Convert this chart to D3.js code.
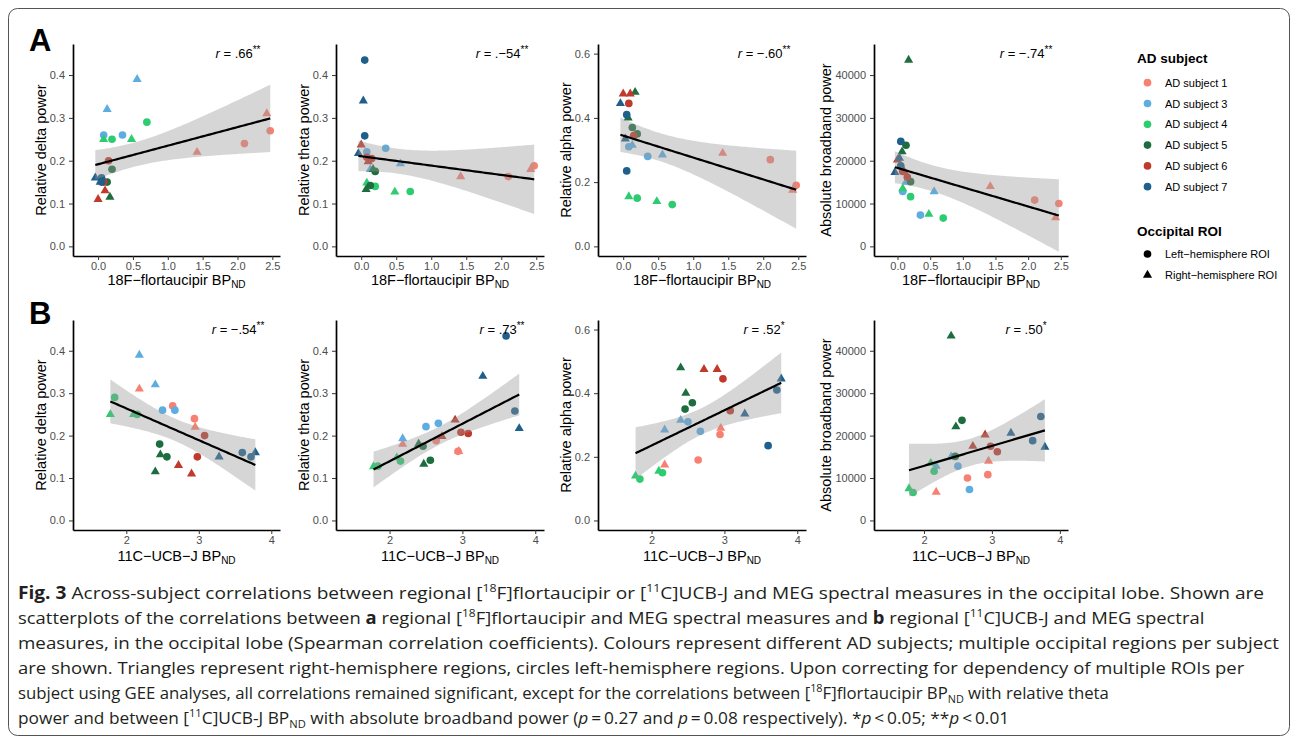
<!DOCTYPE html>
<html>
<head>
<meta charset="utf-8">
<script src="https://cdn.jsdelivr.net/npm/d3@7"></script>
<style>
  body { margin: 0; background: #fff; }
  text { font-family: "Liberation Sans", Arial, Helvetica, sans-serif; }
</style>
</head>
<body>
<script>
// One entry per occipital ROI (two left, two right per AD subject).
const subject = [1,1,1,1, 3,3,3,3, 4,4,4,4, 5,5,5,5, 6,6,6,6, 7,7,7,7];
const hemisphere = ["R","R","L","L", "R","R","L","L", "R","R","L","L", "R","R","L","L", "R","R","L","L", "R","R","L","L"];
const tauBP = [2.42,1.42,2.47,2.10, 0.56,0.13,0.08,0.35, 0.08,0.48,0.20,0.70, 0.17,0.07,0.13,0.20, 0.00,0.10,0.08,0.15, 0.03,-0.04,0.05,0.05];
const ucbBP = [2.18,2.95,2.64,2.94, 2.18,2.40,2.50,2.67, 2.10,1.78,2.15,1.84, 2.40,2.47,2.56,2.46, 2.90,2.72,2.98,3.08, 3.28,3.78,3.60,3.72];
const deltaPower = [0.31,0.22,0.27,0.24, 0.39,0.32,0.26,0.26, 0.25,0.25,0.25,0.29, 0.115,0.155,0.15,0.18, 0.11,0.13,0.15,0.20, 0.15,0.16,0.16,0.15];
const thetaPower = [0.18,0.163,0.188,0.163, 0.193,0.18,0.221,0.229, 0.148,0.127,0.14,0.128, 0.18,0.133,0.142,0.175, 0.237,0.198,0.208,0.205, 0.34,0.217,0.435,0.258];
const alphaPower = [0.175,0.29,0.19,0.27, 0.285,0.315,0.31,0.28, 0.155,0.14,0.15,0.13, 0.48,0.40,0.37,0.35, 0.475,0.475,0.445,0.345, 0.335,0.445,0.235,0.41];
const broadbandPower = [6700,14000,10000,10800, 12800,15000,12800,7300, 13500,7500,11600,6600, 43500,22100,23600,15100, 20200,17500,17500,16200, 20600,17300,18800,24500];

const subjectIds = [1, 3, 4, 5, 6, 7];
const subjectLabels = ["AD subject 1", "AD subject 3", "AD subject 4", "AD subject 5", "AD subject 6", "AD subject 7"];
const roiLabels = ["Left\u2212hemisphere ROI", "Right\u2212hemisphere ROI"];

// r labels: [value text, stars]
const rLabelsA = [[" = .66", "**"], [" = .\u221254", "**"], [" = \u2212.60", "**"], [" = \u2212.74", "**"]];
const rLabelsB = [[" = \u2212.54", "**"], [" = .73", "**"], [" = .52", "*"], [" = .50", "*"]];

const tauTicks = [0, 0.5, 1.0, 1.5, 2.0, 2.5];
const ucbTicks = [2, 3, 4];
const relTicks = [0, 0.1, 0.2, 0.3, 0.4];
const alphaTicks = [0, 0.2, 0.4, 0.6];
const bbTicks = [0, 10000, 20000, 30000, 40000];

const color = d3.scaleOrdinal()
    .domain(subjectIds)
    .range(["#f88072", "#5dade2", "#2ecc71", "#1d6e3e", "#c0392b", "#1f5f8b"]);

const W = 1293, H = 743;
const svg = d3.select("body").append("svg").attr("width", W).attr("height", H);

// outer frame
svg.append("rect")
    .attr("x", 8.5).attr("y", 8.5).attr("width", 1281).attr("height", 727)
    .attr("rx", 9).attr("fill", "none").attr("stroke", "#555").attr("stroke-width", 1);

const cols = [{ left: 73, right: 280 }, { left: 336, right: 544 }, { left: 598, right: 806 }, { left: 874, right: 1068 }];
const rows = [
    { top: 44, bottom: 256, xs: tauBP, xDomain: [-0.36, 2.61], xTicks: tauTicks, xFmt: d3.format(".1f"),
      xTitle: "18F\u2212flortaucipir BP", titleY: 285, r: rLabelsA, letter: "A", letterY: 51 },
    { top: 320, bottom: 530, xs: ucbBP, xDomain: [1.265, 4.12], xTicks: ucbTicks, xFmt: d3.format("d"),
      xTitle: "11C\u2212UCB\u2212J BP", titleY: 561, r: rLabelsB, letter: "B", letterY: 324 }
];
const measures = [
    { ys: deltaPower, domain: [-0.0225, 0.4725], ticks: relTicks, fmt: d3.format(".1f"), title: "Relative delta power" },
    { ys: thetaPower, domain: [-0.0225, 0.4725], ticks: relTicks, fmt: d3.format(".1f"), title: "Relative theta power" },
    { ys: alphaPower, domain: [-0.03, 0.63], ticks: alphaTicks, fmt: d3.format(".1f"), title: "Relative alpha power" },
    { ys: broadbandPower, domain: [-2250, 47250], ticks: bbTicks, fmt: d3.format("d"), title: "Absolute broadband power" }
];

// linear fit with 95% confidence band, like geom_smooth(method = "lm")
function lmBand(xs, ys) {
    const n = xs.length, mx = d3.mean(xs), my = d3.mean(ys);
    let sxx = 0, sxy = 0;
    xs.forEach((x, i) => { sxx += (x - mx) ** 2; sxy += (x - mx) * (ys[i] - my); });
    const b = sxy / sxx, a = my - b * mx;
    const s = Math.sqrt(d3.sum(xs, (x, i) => (ys[i] - a - b * x) ** 2) / (n - 2));
    const t = 2.0739; // qt(0.975, 22)
    const [x0, x1] = d3.extent(xs);
    return d3.range(80).map(i => {
        const x = x0 + (x1 - x0) * i / 79;
        const fit = a + b * x;
        const se = s * Math.sqrt(1 / n + (x - mx) ** 2 / sxx);
        return { x, fit, lo: fit - t * se, hi: fit + t * se };
    });
}

const tri = d3.symbol().type(d3.symbolTriangle).size(36);
const circ = d3.symbol().type(d3.symbolCircle).size(46);

rows.forEach((row, ri) => {
    svg.append("text")
        .attr("x", 29).attr("y", row.letterY)
        .attr("font-size", 31).attr("font-weight", "bold")
        .text(row.letter);

    measures.forEach((m, ci) => {
        const c = cols[ci];
        const x = d3.scaleLinear().domain(row.xDomain).range([c.left, c.right]);
        const y = d3.scaleLinear().domain(m.domain).range([row.bottom, row.top]);
        const g = svg.append("g");

        const clipId = `clip-${ri}-${ci}`;
        g.append("clipPath").attr("id", clipId)
            .append("rect").attr("x", c.left).attr("y", row.top)
            .attr("width", c.right - c.left).attr("height", row.bottom - row.top);

        // points
        const pts = row.xs.map((v, i) => ({ x: v, y: m.ys[i], s: subject[i], h: hemisphere[i] }));
        g.selectAll("path.pt")
            .data(pts)
            .enter()
            .append("path")
            .attr("class", "pt")
            .attr("transform", d => `translate(${x(d.x)},${y(d.y)})`)
            .attr("d", d => d.h === "R" ? tri() : circ())
            .attr("fill", d => color(d.s));

        // smoother
        const band = lmBand(row.xs, m.ys);
        const inner = g.append("g").attr("clip-path", `url(#${clipId})`);
        inner.append("path")
            .datum(band)
            .attr("fill", "#999999")
            .attr("fill-opacity", 0.4)
            .attr("d", d3.area().x(d => x(d.x)).y0(d => y(d.lo)).y1(d => y(d.hi)));
        inner.append("path")
            .datum(band)
            .attr("fill", "none")
            .attr("stroke", "#000")
            .attr("stroke-width", 2.2)
            .attr("d", d3.line().x(d => x(d.x)).y(d => y(d.fit)));

        // axes
        const yAxis = g.append("g")
            .attr("transform", `translate(${c.left},0)`)
            .call(d3.axisLeft(y).tickValues(m.ticks).tickFormat(m.fmt).tickSize(4).tickSizeOuter(0).tickPadding(4));
        const xAxis = g.append("g")
            .attr("transform", `translate(0,${row.bottom})`)
            .call(d3.axisBottom(x).tickValues(row.xTicks).tickFormat(row.xFmt).tickSize(4).tickSizeOuter(0).tickPadding(2.5));
        [yAxis, xAxis].forEach(ax => {
            ax.select(".domain").attr("stroke", "#000").attr("stroke-width", 1.7);
            ax.selectAll(".tick line").attr("stroke", "#333").attr("stroke-width", 1);
            ax.selectAll(".tick text")
                .attr("fill", "#4d4d4d")
                .attr("font-size", 11)
                .attr("font-family", "Liberation Sans, Arial, sans-serif");
        });

        // axis titles
        const bb = yAxis.node().getBBox();
        const titleX = c.left + bb.x - 4;
        g.append("text")
            .attr("transform", `translate(${titleX},${(row.top + row.bottom) / 2}) rotate(-90)`)
            .attr("text-anchor", "middle")
            .attr("font-size", 14.5)
            .text(m.title);

        const xt = g.append("text")
            .attr("x", (c.left + c.right) / 2)
            .attr("y", row.titleY)
            .attr("text-anchor", "middle")
            .attr("font-size", 14.5);
        xt.append("tspan").text(row.xTitle);
        xt.append("tspan").attr("font-size", 10).attr("dy", 3).text("ND");

        // correlation label
        const rt = g.append("text")
            .attr("x", c.right - 42)
            .attr("y", row.top + 14)
            .attr("text-anchor", "middle")
            .attr("font-size", 13);
        rt.append("tspan").attr("font-style", "italic").text("r");
        rt.append("tspan").text(row.r[ci][0]);
        rt.append("tspan").attr("font-size", 10).attr("dy", -5).text(row.r[ci][1]);
    });
});

// legend
const lg = svg.append("g");
lg.append("text").attr("x", 1137).attr("y", 63).attr("font-size", 13.5).attr("font-weight", "bold").text("AD subject");
subjectIds.forEach((s, i) => {
    const cy = 82.7 + i * 20.8;
    lg.append("path").attr("transform", `translate(1147.5,${cy})`).attr("d", circ()).attr("fill", color(s));
    lg.append("text").attr("x", 1165).attr("y", cy + 4).attr("font-size", 11).text(subjectLabels[i]);
});
lg.append("text").attr("x", 1137).attr("y", 236).attr("font-size", 13.5).attr("font-weight", "bold").text("Occipital ROI");
roiLabels.forEach((lab, i) => {
    const cy = 254 + i * 21;
    lg.append("path").attr("transform", `translate(1147.5,${cy})`).attr("d", i === 0 ? circ() : tri()).attr("fill", "#000");
    lg.append("text").attr("x", 1165).attr("y", cy + 4).attr("font-size", 11).text(lab);
});

// caption: each line is a list of [text, style]
const captionLines = [
    [["Fig. 3", "b"], [" Across-subject correlations between regional [", ""], ["18", "sup"], ["F]flortaucipir or [", ""], ["11", "sup"], ["C]UCB-J and MEG spectral measures in the occipital lobe. Shown are", ""]],
    [["scatterplots of the correlations between ", ""], ["a", "b"], [" regional [", ""], ["18", "sup"], ["F]flortaucipir and MEG spectral measures and ", ""], ["b", "b"], [" regional [", ""], ["11", "sup"], ["C]UCB-J and MEG spectral", ""]],
    [["measures, in the occipital lobe (Spearman correlation coefficients). Colours represent different AD subjects; multiple occipital regions per subject", ""]],
    [["are shown. Triangles represent right-hemisphere regions, circles left-hemisphere regions. Upon correcting for dependency of multiple ROIs per", ""]],
    [["subject using GEE analyses, all correlations remained significant, except for the correlations between [", ""], ["18", "sup"], ["F]flortaucipir BP", ""], ["ND", "sub"], [" with relative theta", ""]],
    [["power and between [", ""], ["11", "sup"], ["C]UCB-J BP", ""], ["ND", "sub"], [" with absolute broadband power (", ""], ["p", "i"], ["\u2009=\u20090.27 and ", ""], ["p", "i"], ["\u2009=\u20090.08 respectively). *", ""], ["p", "i"], ["\u2009<\u20090.05; **", ""], ["p", "i"], ["\u2009<\u20090.01", ""]]
];
const captionEnds = [1265, 1205, 1280, 1245, 1110, 1010];
const capX = 18;
const cap = svg.append("g");
captionLines.forEach((segs, li) => {
    const t = cap.append("text")
        .attr("x", 0).attr("y", 0)
        .attr("font-size", 17)
        .attr("fill", "#231f20")
        .style("font-family", "'Open Sans', 'Noto Sans', sans-serif");
    let shift = 0;
    segs.forEach(([txt, st]) => {
        const sp = t.append("tspan").text(txt);
        let target = 0;
        if (st === "b") sp.attr("font-weight", "bold");
        if (st === "i") sp.attr("font-style", "italic");
        if (st === "sup") { sp.attr("font-size", 11); target = -7; }
        if (st === "sub") { sp.attr("font-size", 11); target = 4; }
        sp.attr("dy", target - shift);
        shift = target;
    });
    // squeeze each line horizontally to the width it has in the figure
    const natural = t.node().getBBox().width;
    const k = (captionEnds[li] - capX) / natural;
    t.attr("transform", `translate(${capX},${599 + li * 25}) scale(${k},1)`);
});
</script>
</body>
</html>
